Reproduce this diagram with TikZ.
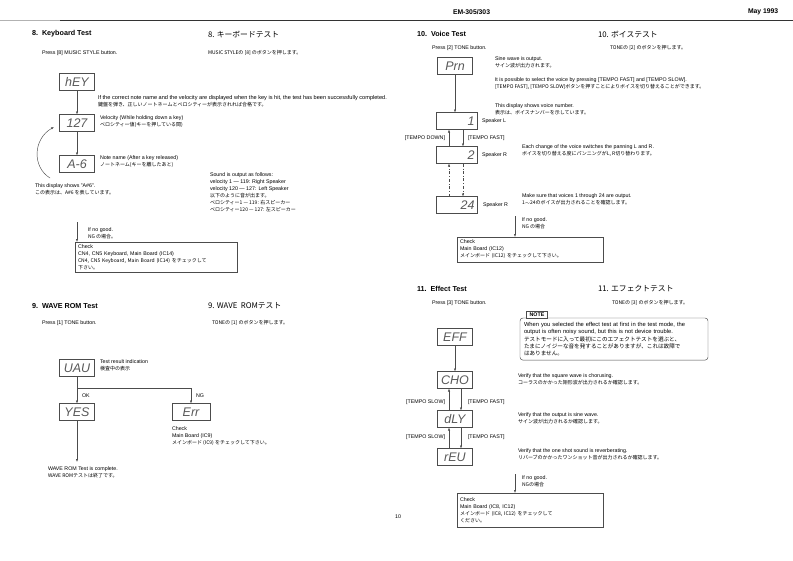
\documentclass[tikz,border=0pt]{standalone}
\usepackage{fontspec}
\setmainfont{Liberation Sans}
\newfontfamily\jp{Noto Sans CJK JP}
\usetikzlibrary{arrows.meta}
\newcommand\jpf{\jp\fontsize{5}{7}\selectfont}
\newcommand\enf{\fontsize{5.3}{7}\selectfont}
\begin{document}
\begin{tikzpicture}[x=1pt,y=-1pt,
  every node/.style={inner sep=0pt,outer sep=0pt},
  en/.style={anchor=west,font=\enf},
  ja/.style={anchor=west,font=\jpf},
  blk/.style={anchor=north west,align=left,font=\enf},
  hd/.style={anchor=west,font=\bfseries\fontsize{7.2}{8}\selectfont},
  hj/.style={anchor=west,font=\jp\fontsize{7.8}{8}\selectfont},
  disp/.style={draw=black!70,line width=0.45pt,minimum width=35pt,minimum height=17pt,font=\itshape\fontsize{12.5}{12.5}\selectfont,text=black!65},
  wdisp/.style={disp,minimum width=41pt,text width=36pt,align=right},
  ln/.style={draw=black!70,line width=0.45pt},
  arr/.style={ln,-{Latex[length=3pt,width=2.2pt]}},
  chk/.style={draw=black!70,line width=0.45pt,anchor=north west,align=left,font=\enf,inner xsep=3pt,inner ysep=2.5pt},
  hdr/.style={anchor=west,font=\bfseries\fontsize{6.8}{7}\selectfont},
]
\fill[white] (0,0) rectangle (793,560);
\useasboundingbox (0,0) rectangle (793,560);

% header
\node[hdr] (model) at (453,12) {EM-305/303};
\node[hdr] (date) at (748,12) {May 1993};
\coordinate (ruleL) at (0,20);
\coordinate (ruleM) at (60,20);
\coordinate (ruleR) at (793,20);
\draw[line width=0.5pt,black!30] (ruleL) -- (ruleM);
\draw[line width=0.8pt,black!80] (ruleM) -- (ruleR);

% ---------- 8. Keyboard Test
\node[hd] (h8) at (32,34) {8.\ \ Keyboard Test};
\node[hj] (h8j) at (208,34) {8. キーボードテスト};
\node[en] (p8) at (42,53) {Press [8] MUSIC STYLE button.};
\node[ja] (p8j) at (208,53) {MUSIC STYLEの [8] のボタンを押します。};

\node[disp] (hey) at (77,82) {hEY};
\node[disp] (d127) at (77,123) {127};
\node[disp] (a6) at (77,164) {A-6};
\draw[arr] (hey) -- (d127);
\draw[arr] (d127) -- (a6);
\coordinate (cvS) at (50,178);
\coordinate (cvE) at (54,127);
\draw[arr] (cvS) .. controls (32,167) and (33,139) .. (cvE);

\node[blk,font=\fontsize{5.6}{7}\selectfont] (t8a) at (98,95.7) {If the correct note name and the velocity are displayed when the key is hit, the test has been successfully completed.\\{\jpf 鍵盤を弾き、正しいノートネームとベロシティーが表示されれば合格です。}};
\node[blk] (t8b) at (100,115.7) {Velocity (While holding down a key)\\{\jpf ベロシティー値(キーを押している間)}};
\node[blk] (t8c) at (100,155.7) {Note name (After a key released)\\{\jpf ノートネーム(キーを離したあと)}};
\node[blk] (t8d) at (35,183.7) {This display shows "A\#6".\\{\jpf この表示は、A\#6 を表しています。}};
\node[blk] (t8e) at (210,172.7) {Sound is output as follows:\\velocity 1 — 119: Right Speaker\\velocity 120 — 127: Left Speaker\\{\jpf 以下のように音が出ます。}\\{\jpf ベロシティー1 — 119: 右スピーカー}\\{\jpf ベロシティー120 — 127: 左スピーカー}};

\coordinate (kbng) at (77,222);
\node[chk,minimum width=162pt,minimum height=28pt,text width=156pt] (kbchk) at (75,242) {Check\\CN4, CN5 Keyboard, Main Board (IC14)\\{\jpf CN4, CN5 Keyboard, Main Board (IC14) をチェックして}\\{\jpf 下さい。}};
\draw[arr] (kbng) -- (kbng |- kbchk.north);
\node[blk] (t8f) at (88,227.7) {If no good.\\{\jpf NG の場合。}};

% ---------- 9. WAVE ROM Test
\node[hd] (h9) at (32,306) {9.\ \ WAVE ROM Test};
\node[hj] (h9j) at (208,306) {9. WAVE\ \ ROMテスト};
\node[en] (p9) at (42,323) {Press [1] TONE button.};
\node[ja] (p9j) at (212,323) {TONEの [1] のボタンを押します。};

\node[disp] (uau) at (77,368) {UAU};
\node[blk] (t9a) at (100,359.7) {Test result indication\\{\jpf 検査中の表示}};
\node[disp] (yes) at (77,412) {YES};
\node[disp,minimum width=38pt] (err) at (191,412) {Err};
\coordinate (split) at (77,388);
\draw[ln] (uau) -- (split);
\draw[arr] (split) -- (yes);
\draw[arr] (split) -| (err);
\node[en] (ok) at (82,396) {OK};
\node[en] (ng) at (196,396) {NG};
\coordinate (romend) at (77,462);
\draw[arr] (yes) -- (romend);
\node[blk] (t9b) at (48,466.7) {WAVE ROM Test is complete.\\{\jpf WAVE ROMテストは終了です。}};
\node[blk] (t9c) at (172,426.7) {Check\\Main Board (IC9)\\{\jpf メインボード (IC9) をチェックして下さい。}};

% ---------- 10. Voice Test
\node[hd] (h10) at (417,34) {10.\ \ Voice Test};
\node[hj] (h10j) at (598,34) {10. ボイステスト};
\node[en] (p10) at (432,48) {Press [2] TONE button.};
\node[ja] (p10j) at (610,48) {TONEの [2] のボタンを押します。};

\node[disp] (prn) at (455,66) {Prn};
\node[wdisp] (v1) at (456.5,121) {1};
\node[wdisp] (v2) at (456.5,155) {2};
\node[wdisp] (v24) at (456.5,205) {24};
\draw[arr] (prn) -- (prn |- v1.north);
\draw[arr] ([xshift=-7.5pt]v2.north) -- ([xshift=-7.5pt]v1.south);
\draw[arr] ([xshift=6.5pt]v1.south) -- ([xshift=6.5pt]v2.north);
\draw[arr,dash dot] ([xshift=-7.5pt]v24.north) -- ([xshift=-7.5pt]v2.south);
\draw[arr,dash dot] ([xshift=6.5pt]v2.south) -- ([xshift=6.5pt]v24.north);
\node[en] (spL) at (482,121) {Speaker L};
\node[en] (spR1) at (482,155) {Speaker R};
\node[en] (spR2) at (483,205) {Speaker R};
\node[en,anchor=east] (tdown) at (445,138) {[TEMPO DOWN]};
\node[en] (tfast) at (468,138) {[TEMPO FAST]};

\node[blk] (t10a) at (495,56.7) {Sine wave is output.\\{\jpf サイン波が出力されます。}};
\node[blk] (t10b) at (495,77.7) {It is possible to select the voice by pressing [TEMPO FAST] and [TEMPO SLOW].\\{\jpf [TEMPO FAST], [TEMPO SLOW]ボタンを押すことによりボイスを切り替えることができます。}};
\node[blk] (t10c) at (495,103.7) {This display shows voice number.\\{\jpf 表示は、ボイスナンバーを示しています。}};
\node[blk] (t10d) at (522,144.7) {Each change of the voice switches the panning L and R.\\{\jpf ボイスを切り替える度にパンニングがL, R切り替わります。}};
\node[blk] (t10e) at (522,193.7) {Make sure that voices 1 through 24 are output.\\{\jpf 1$\sim$24のボイスが出力されることを確認します。}};

\coordinate (vng) at (515,216);
\node[chk,minimum width=146pt,minimum height=25pt,text width=140pt] (vchk) at (457,237) {Check\\Main Board (IC12)\\{\jpf メインボード (IC12) をチェックして下さい。}};
\draw[arr] (vng) -- (vng |- vchk.north);
\node[blk] (t10f) at (522,217.7) {If no good.\\{\jpf NG の場合}};

% ---------- 11. Effect Test
\node[hd] (h11) at (417,289) {11.\ \ Effect Test};
\node[hj] (h11j) at (598,289) {11. エフェクトテスト};
\node[en] (p11) at (432,303) {Press [3] TONE button.};
\node[ja] (p11j) at (612,303) {TONEの [3] のボタンを押します。};

\node[draw=black!70,line width=0.45pt,rounded corners=3pt,anchor=north west,align=left,font=\fontsize{5.8}{7.4}\selectfont,text width=180pt,inner xsep=4pt,inner ysep=4pt] (note) at (520,318) {When you selected the effect test at first in the test mode, the\\output is often noisy sound, but this is not device trouble.\\{\jp\fontsize{5.6}{7.4}\selectfont テストモードに入って最初にこのエフェクトテストを選ぶと、}\\{\jp\fontsize{5.6}{7.4}\selectfont たまにノイジーな音を発することがありますが、これは故障で}\\{\jp\fontsize{5.6}{7.4}\selectfont はありません。}};
\node[draw=black!70,line width=0.45pt,fill=white,font=\bfseries\enf,inner xsep=3pt,inner ysep=1.6pt] (notetag) at (537,315) {NOTE};

\node[disp] (eff) at (455,337) {EFF};
\node[disp] (cho) at (455,380) {CHO};
\node[disp] (dly) at (455,419) {dLY};
\node[disp] (rev) at (455,457) {rEU};
\draw[arr] (eff) -- (cho);
\draw[arr] ([xshift=-6pt]dly.north) -- ([xshift=-6pt]cho.south);
\draw[arr] ([xshift=6pt]cho.south) -- ([xshift=6pt]dly.north);
\draw[arr] ([xshift=-6pt]rev.north) -- ([xshift=-6pt]dly.south);
\draw[arr] ([xshift=6pt]dly.south) -- ([xshift=6pt]rev.north);
\node[en,anchor=east] (ts1) at (445,402) {[TEMPO SLOW]};
\node[en] (tf1) at (468,402) {[TEMPO FAST]};
\node[en,anchor=east] (ts2) at (445,437) {[TEMPO SLOW]};
\node[en] (tf2) at (468,437) {[TEMPO FAST]};

\node[blk] (t11a) at (518,373.7) {Verify that the square wave is chorusing.\\{\jpf コーラスのかかった矩形波が出力されるか確認します。}};
\node[blk] (t11b) at (518,412.7) {Verify that the output is sine wave.\\{\jpf サイン波が出力されるか確認します。}};
\node[blk] (t11c) at (518,448.7) {Verify that the one shot sound is reverberating.\\{\jpf リバーブのかかったワンショット音が出力されるか確認します。}};

\coordinate (eng) at (515,474);
\node[chk,minimum width=146pt,minimum height=34pt,text width=140pt] (echk) at (457,493) {Check\\Main Board (IC8, IC12)\\{\jpf メインボード (IC8, IC12) をチェックして}\\{\jpf ください。}};
\draw[arr] (eng) -- (eng |- echk.north);
\node[blk] (t11d) at (522,475.7) {If no good.\\{\jpf NGの場合}};

\node[en,anchor=center] (page) at (398,517) {10};
\end{tikzpicture}
\end{document}
